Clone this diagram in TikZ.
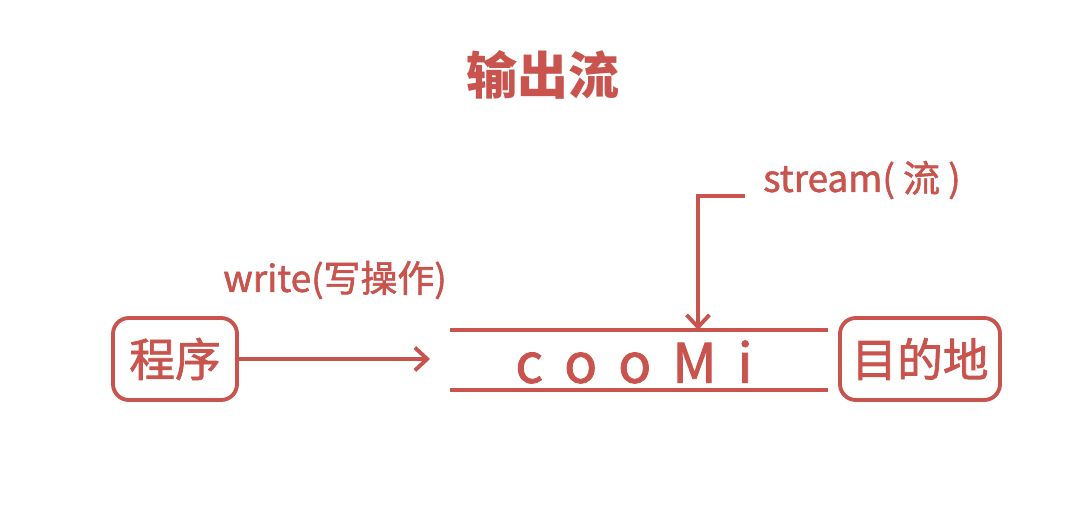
\documentclass[tikz,border=0pt]{standalone}
\usepackage{fontspec}
\setmainfont{Noto Sans CJK SC}
\newfontfamily\heavyfont[FakeBold=1.6]{Noto Sans CJK SC}
\usetikzlibrary{
    arrows.meta,
    positioning
}
\definecolor{streamred}{RGB}{201,84,78}

\begin{document}
\begin{tikzpicture}[x=0.02cm, y=-0.02cm,
                    every node/.style={text=streamred},
                    box/.style={draw=streamred, line width=2.2pt, rounded corners=9pt, minimum height=1.64cm},
                    wire/.style={draw=streamred, line width=2.2pt},
                    tip/.style={-{Straight Barb[length=7pt, width=13pt]}}]
                    \useasboundingbox (0,0) rectangle (1092,510);
                    \node[font=\bfseries\fontsize{29}{31}\selectfont] (title) at (543,75) {输出流};

                    \node[box, minimum width=2.48cm, font=\heavyfont\fontsize{26}{28}\selectfont] (prog) at (175,359) {程序};
                    \node[box, minimum width=3.2cm, font=\heavyfont\fontsize{26}{28}\selectfont] (dest) at (920,359) {目的地};
                    \node[font=\heavyfont\fontsize{21}{23}\selectfont] (write) at (335,280) {write(写操作)};
                    \node[font=\heavyfont\fontsize{21}{23}\selectfont] (stream) at (862,180) {stream( 流 )};
                    \node[font=\heavyfont\fontsize{31}{33}\selectfont] (data) at (634,362) {c\hspace{12pt}o\hspace{12pt}o\hspace{12pt}M\hspace{12pt}i};

                    \coordinate (topl) at (450,330);
                    \coordinate (topr) at (828,330);
                    \coordinate (botl) at (450,390);
                    \coordinate (botr) at (828,390);
                    \coordinate (pipein) at (430,359);
                    \coordinate (bend) at (698,196);
                    \coordinate (hit) at (698,330);
                    \coordinate (start) at (745,196);

                    \draw[wire]
                    (topl) edge (topr)
                    (botl) edge (botr)
                    (prog) edge[tip] (pipein);
                    \draw[wire, tip] (start) -- (bend) -- (hit);
                \end{tikzpicture}
\end{document}
